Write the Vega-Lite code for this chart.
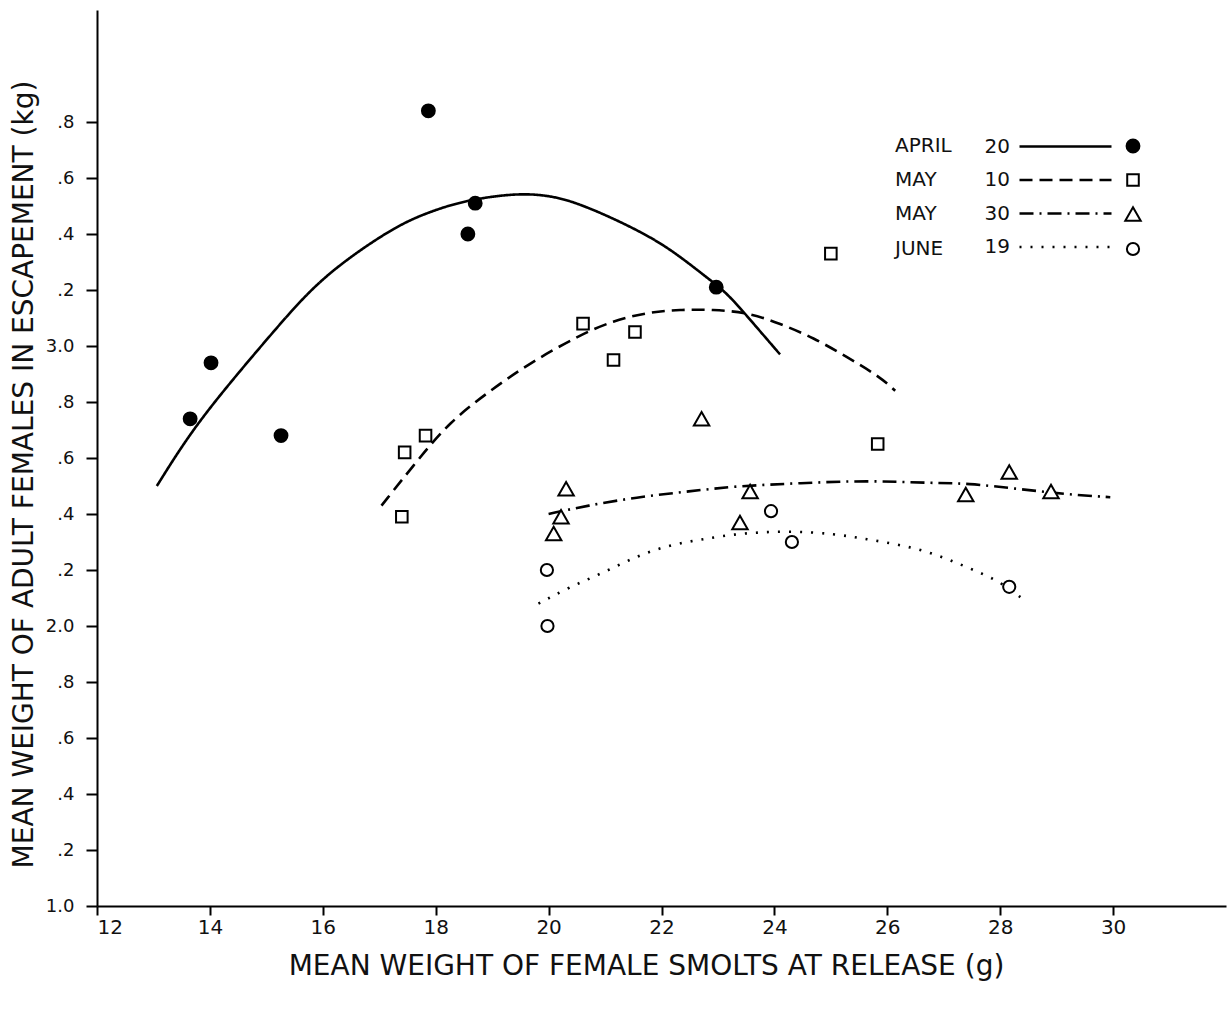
{
  "$schema": "https://vega.github.io/schema/vega-lite/v6.json",
  "width": 1129,
  "height": 896,
  "autosize": {"type": "none"},
  "padding": {"left": 97, "top": 10, "right": 4, "bottom": 103},
  "background": "white",
  "config": {
    "view": {"stroke": null},
    "font": "DejaVu Sans",
    "axis": {
      "domainColor": "black", "domainWidth": 2, "tickColor": "black", "tickWidth": 2,
      "grid": false, "labelColor": "#111", "titleColor": "#111",
      "labelFont": "DejaVu Sans", "titleFont": "DejaVu Sans", "titleFontWeight": "normal"
    }
  },
  "datasets": {
    "points": [
      {"release": "04-20", "smolt": 13.65, "adult": 2.74},
      {"release": "04-20", "smolt": 14.02, "adult": 2.94},
      {"release": "04-20", "smolt": 15.26, "adult": 2.68},
      {"release": "04-20", "smolt": 17.87, "adult": 3.84},
      {"release": "04-20", "smolt": 18.57, "adult": 3.40},
      {"release": "04-20", "smolt": 18.70, "adult": 3.51},
      {"release": "04-20", "smolt": 22.97, "adult": 3.21},
      {"release": "05-10", "smolt": 17.40, "adult": 2.39},
      {"release": "05-10", "smolt": 17.45, "adult": 2.62},
      {"release": "05-10", "smolt": 17.82, "adult": 2.68},
      {"release": "05-10", "smolt": 20.61, "adult": 3.08},
      {"release": "05-10", "smolt": 21.15, "adult": 2.95},
      {"release": "05-10", "smolt": 21.53, "adult": 3.05},
      {"release": "05-10", "smolt": 25.00, "adult": 3.33},
      {"release": "05-10", "smolt": 25.83, "adult": 2.65},
      {"release": "05-30", "smolt": 20.09, "adult": 2.33},
      {"release": "05-30", "smolt": 20.22, "adult": 2.39},
      {"release": "05-30", "smolt": 20.31, "adult": 2.49},
      {"release": "05-30", "smolt": 22.71, "adult": 2.74},
      {"release": "05-30", "smolt": 23.39, "adult": 2.37},
      {"release": "05-30", "smolt": 23.57, "adult": 2.48},
      {"release": "05-30", "smolt": 27.39, "adult": 2.47},
      {"release": "05-30", "smolt": 28.16, "adult": 2.55},
      {"release": "05-30", "smolt": 28.90, "adult": 2.48},
      {"release": "06-19", "smolt": 19.97, "adult": 2.20},
      {"release": "06-19", "smolt": 19.98, "adult": 2.00},
      {"release": "06-19", "smolt": 23.94, "adult": 2.41},
      {"release": "06-19", "smolt": 24.31, "adult": 2.30},
      {"release": "06-19", "smolt": 28.16, "adult": 2.14}
    ],
    "curves": [
      {"release": "04-20", "smolt": 13.06, "adult": 2.50},
      {"release": "04-20", "smolt": 13.65, "adult": 2.69},
      {"release": "04-20", "smolt": 14.36, "adult": 2.87},
      {"release": "04-20", "smolt": 15.12, "adult": 3.05},
      {"release": "04-20", "smolt": 15.77, "adult": 3.20},
      {"release": "04-20", "smolt": 16.42, "adult": 3.31},
      {"release": "04-20", "smolt": 17.31, "adult": 3.43},
      {"release": "04-20", "smolt": 17.90, "adult": 3.48},
      {"release": "04-20", "smolt": 18.52, "adult": 3.52},
      {"release": "04-20", "smolt": 19.38, "adult": 3.545},
      {"release": "04-20", "smolt": 19.97, "adult": 3.54},
      {"release": "04-20", "smolt": 20.56, "adult": 3.51},
      {"release": "04-20", "smolt": 21.74, "adult": 3.40},
      {"release": "04-20", "smolt": 22.33, "adult": 3.32},
      {"release": "04-20", "smolt": 22.83, "adult": 3.24},
      {"release": "04-20", "smolt": 23.16, "adult": 3.19},
      {"release": "04-20", "smolt": 23.63, "adult": 3.08},
      {"release": "04-20", "smolt": 24.10, "adult": 2.97},
      {"release": "05-10", "smolt": 17.04, "adult": 2.43},
      {"release": "05-10", "smolt": 17.67, "adult": 2.59},
      {"release": "05-10", "smolt": 18.25, "adult": 2.73},
      {"release": "05-10", "smolt": 18.96, "adult": 2.84},
      {"release": "05-10", "smolt": 19.67, "adult": 2.94},
      {"release": "05-10", "smolt": 20.56, "adult": 3.04},
      {"release": "05-10", "smolt": 21.14, "adult": 3.09},
      {"release": "05-10", "smolt": 21.75, "adult": 3.12},
      {"release": "05-10", "smolt": 22.33, "adult": 3.13},
      {"release": "05-10", "smolt": 22.91, "adult": 3.13},
      {"release": "05-10", "smolt": 23.52, "adult": 3.12},
      {"release": "05-10", "smolt": 24.10, "adult": 3.08},
      {"release": "05-10", "smolt": 24.69, "adult": 3.03},
      {"release": "05-10", "smolt": 25.29, "adult": 2.96},
      {"release": "05-10", "smolt": 25.87, "adult": 2.89},
      {"release": "05-10", "smolt": 26.14, "adult": 2.84},
      {"release": "05-30", "smolt": 20.00, "adult": 2.40},
      {"release": "05-30", "smolt": 20.68, "adult": 2.43},
      {"release": "05-30", "smolt": 21.56, "adult": 2.46},
      {"release": "05-30", "smolt": 22.45, "adult": 2.48},
      {"release": "05-30", "smolt": 23.33, "adult": 2.50},
      {"release": "05-30", "smolt": 24.46, "adult": 2.51},
      {"release": "05-30", "smolt": 25.64, "adult": 2.52},
      {"release": "05-30", "smolt": 26.82, "adult": 2.51},
      {"release": "05-30", "smolt": 27.41, "adult": 2.51},
      {"release": "05-30", "smolt": 28.30, "adult": 2.49},
      {"release": "05-30", "smolt": 29.18, "adult": 2.47},
      {"release": "05-30", "smolt": 29.95, "adult": 2.46},
      {"release": "06-19", "smolt": 19.82, "adult": 2.08},
      {"release": "06-19", "smolt": 20.38, "adult": 2.14},
      {"release": "06-19", "smolt": 20.97, "adult": 2.19},
      {"release": "06-19", "smolt": 21.56, "adult": 2.25},
      {"release": "06-19", "smolt": 22.15, "adult": 2.29},
      {"release": "06-19", "smolt": 22.74, "adult": 2.31},
      {"release": "06-19", "smolt": 23.33, "adult": 2.33},
      {"release": "06-19", "smolt": 24.22, "adult": 2.34},
      {"release": "06-19", "smolt": 25.05, "adult": 2.33},
      {"release": "06-19", "smolt": 25.64, "adult": 2.31},
      {"release": "06-19", "smolt": 26.23, "adult": 2.29},
      {"release": "06-19", "smolt": 26.82, "adult": 2.26},
      {"release": "06-19", "smolt": 27.41, "adult": 2.21},
      {"release": "06-19", "smolt": 28.00, "adult": 2.16},
      {"release": "06-19", "smolt": 28.44, "adult": 2.09}
    ]
  },
  "layer": [
    {
      "data": {"name": "curves"},
      "mark": {"type": "line", "stroke": "black", "strokeWidth": 2.6, "interpolate": "basis"},
      "encoding": {
        "x": {
          "field": "smolt", "type": "quantitative",
          "scale": {"domain": [12, 32], "nice": false, "zero": false},
          "axis": {
            "values": [12, 14, 16, 18, 20, 22, 24, 26, 28, 30], "format": "d",
            "labelFontSize": 20, "tickSize": 9, "labelPadding": 2,
            "title": "MEAN WEIGHT OF FEMALE SMOLTS AT RELEASE (g)",
            "titleFontSize": 28, "titleX": 549, "titleY": 60, "titleBaseline": "middle", "titleAnchor": "middle"
          }
        },
        "y": {
          "field": "adult", "type": "quantitative",
          "scale": {"domain": [1, 4.2], "nice": false, "zero": false},
          "axis": {
            "values": [1.0, 1.2, 1.4, 1.6, 1.8, 2.0, 2.2, 2.4, 2.6, 2.8, 3.0, 3.2, 3.4, 3.6, 3.8],
            "labelExpr": "abs(datum.value - round(datum.value)) < 0.001 ? format(datum.value, '.1f') : slice(format(datum.value, '.1f'), 1)",
            "labelFontSize": 18, "tickSize": 11, "labelPadding": 12,
            "title": "MEAN WEIGHT OF ADULT FEMALES IN ESCAPEMENT (kg)",
            "titleFontSize": 28, "titleX": -73, "titleY": 464, "titleBaseline": "middle", "titleAnchor": "middle", "titleAngle": -90
          }
        },
        "strokeDash": {
          "field": "release", "type": "nominal",
          "scale": {"range": [[1, 0], [13, 7], [14, 6, 2, 6], [2, 9]]},
          "legend": {
            "title": null, "orient": "none", "legendX": 957, "legendY": 125, "padding": 0,
            "labelExpr": "slice(datum.label, 3)", "labelAlign": "right", "labelOffset": -67,
            "labelFontSize": 20, "labelFont": "DejaVu Sans", "labelColor": "#111",
            "symbolType": "M-4.6,0H4.6", "symbolSize": 400, "symbolStrokeWidth": 2.5, "symbolStrokeColor": "black",
            "rowPadding": 11.5
          }
        }
      }
    },
    {
      "data": {"name": "points"},
      "mark": {"type": "point", "stroke": "black", "strokeWidth": 2, "opacity": 1, "fillOpacity": 1},
      "encoding": {
        "x": {"field": "smolt", "type": "quantitative"},
        "y": {"field": "adult", "type": "quantitative"},
        "shape": {
          "field": "release", "type": "nominal",
          "scale": {"range": ["circle", "M-0.9,-0.9H0.9V0.9H-0.9Z", "M0,-1.05L1.2,1.05H-1.2Z", "M0.95,0A0.95,0.95,0,1,1,-0.95,0A0.95,0.95,0,1,1,0.95,0Z"]},
          "legend": {
            "title": null, "orient": "none", "legendX": 1026, "legendY": 126, "padding": 0,
            "labelExpr": "datum.label == '04-20' ? 'APRIL' : datum.label == '06-19' ? 'JUNE' : 'MAY'",
            "labelAlign": "left", "labelOffset": -248,
            "labelFontSize": 20, "labelFont": "DejaVu Sans", "labelColor": "#111",
            "symbolStrokeWidth": 2, "symbolStrokeColor": "black", "symbolOpacity": 1,
            "rowPadding": 13
          }
        },
        "fill": {
          "field": "release", "type": "nominal",
          "scale": {"range": ["black", "white", "white", "white"]}
        },
        "size": {
          "field": "release", "type": "ordinal",
          "scale": {"range": [165, 165]}
        }
      }
    }
  ]
}
